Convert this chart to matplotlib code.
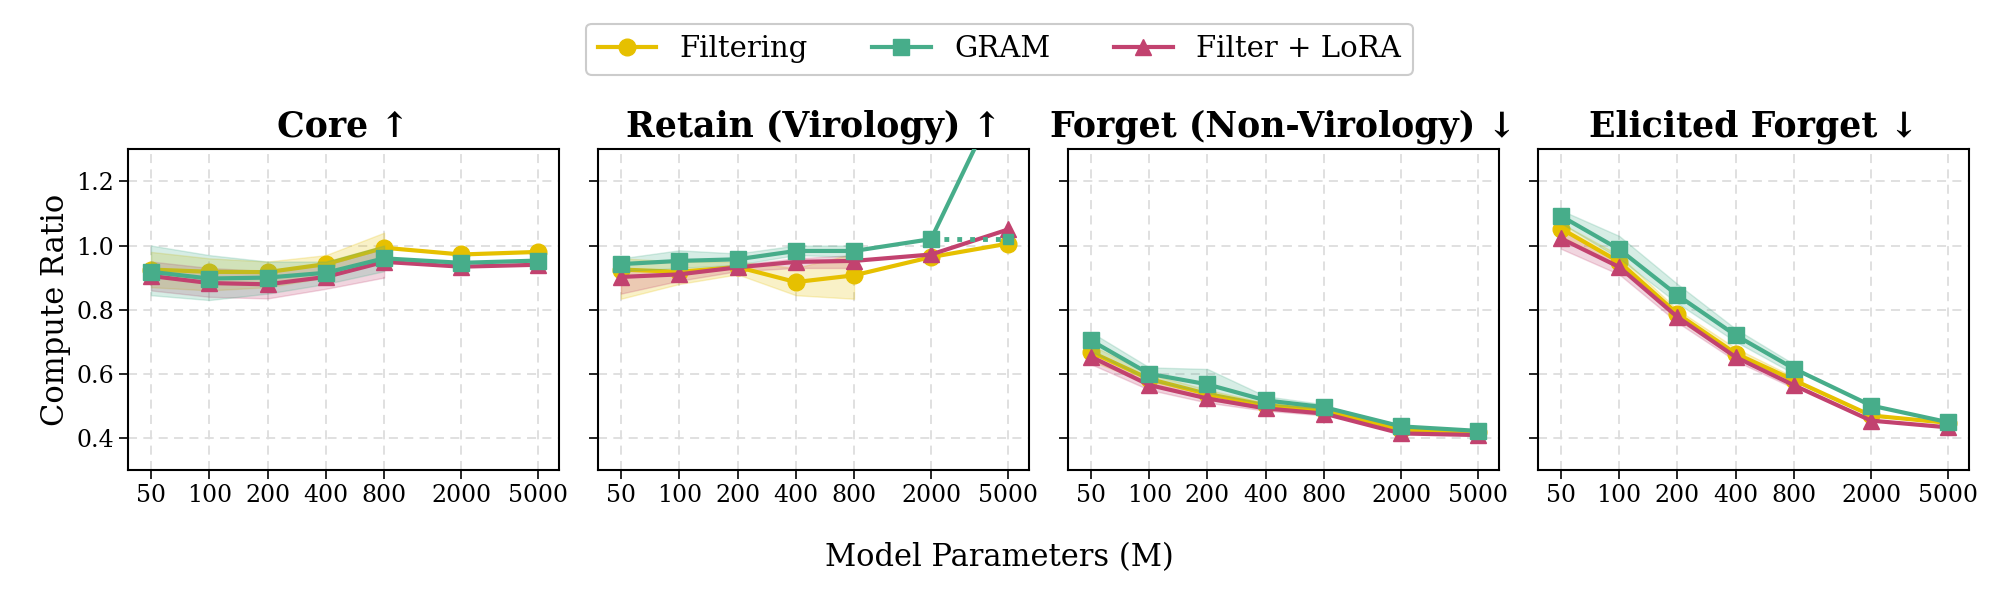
import numpy as np
import matplotlib
matplotlib.use("Agg")
import matplotlib.pyplot as plt
from matplotlib.ticker import NullLocator

# model sizes (M params)
sizes = [50, 100, 200, 400, 800, 2000, 5000]
size_labels = ["50", "100", "200", "400", "800", "2000", "5000"]
n_band = 5  # seeds only available for the first five sizes

panel_titles = ["Core ↑", "Retain (Virology) ↑",
                "Forget (Non-Virology) ↓", "Elicited Forget ↓"]

# mean values per panel
filt_core = [0.925, 0.918, 0.917, 0.942, 0.993, 0.972, 0.980]
gram_core = [0.918, 0.897, 0.900, 0.915, 0.960, 0.946, 0.953]
lora_core = [0.905, 0.883, 0.879, 0.902, 0.949, 0.934, 0.940]

filt_retain = [0.925, 0.918, 0.933, 0.886, 0.907, 0.964, 1.006]
gram_retain = [0.942, 0.952, 0.957, 0.983, 0.983, 1.020, 1.520]
lora_retain = [0.902, 0.910, 0.932, 0.949, 0.952, 0.972, 1.050]
gram_retain_alt = [1.020, 1.020]  # dotted continuation at 2000 -> 5000

filt_forget = [0.668, 0.584, 0.537, 0.502, 0.486, 0.426, 0.419]
gram_forget = [0.704, 0.600, 0.567, 0.517, 0.496, 0.436, 0.422]
lora_forget = [0.653, 0.565, 0.523, 0.492, 0.476, 0.414, 0.409]

filt_elicit = [1.053, 0.949, 0.787, 0.663, 0.580, 0.470, 0.447]
gram_elicit = [1.092, 0.988, 0.845, 0.720, 0.616, 0.501, 0.449]
lora_elicit = [1.022, 0.933, 0.777, 0.652, 0.564, 0.454, 0.433]

# band limits (min / max over seeds) for first five sizes
filt_core_lo = [0.870, 0.860, 0.870, 0.900, 0.950]
filt_core_hi = [0.980, 0.960, 0.950, 0.970, 1.040]
gram_core_lo = [0.845, 0.830, 0.850, 0.880, 0.920]
gram_core_hi = [1.000, 0.970, 0.950, 0.950, 1.000]
lora_core_lo = [0.860, 0.840, 0.835, 0.865, 0.900]
lora_core_hi = [0.950, 0.930, 0.920, 0.940, 0.990]

filt_retain_lo = [0.834, 0.880, 0.910, 0.845, 0.834]
filt_retain_hi = [0.960, 0.950, 0.950, 0.930, 0.975]
gram_retain_lo = [0.920, 0.930, 0.940, 0.970, 0.965]
gram_retain_hi = [0.960, 0.985, 0.975, 1.000, 1.000]
lora_retain_lo = [0.850, 0.890, 0.920, 0.930, 0.930]
lora_retain_hi = [0.930, 0.920, 0.940, 0.960, 0.970]

filt_forget_lo = [0.640, 0.570, 0.520, 0.490, 0.480]
filt_forget_hi = [0.690, 0.600, 0.550, 0.510, 0.495]
gram_forget_lo = [0.670, 0.580, 0.540, 0.505, 0.490]
gram_forget_hi = [0.730, 0.620, 0.615, 0.530, 0.505]
lora_forget_lo = [0.630, 0.550, 0.510, 0.485, 0.470]
lora_forget_hi = [0.670, 0.580, 0.535, 0.500, 0.485]

filt_elicit_lo = [1.030, 0.930, 0.770, 0.650, 0.570]
filt_elicit_hi = [1.070, 0.970, 0.800, 0.680, 0.590]
gram_elicit_lo = [1.070, 0.960, 0.820, 0.700, 0.600]
gram_elicit_hi = [1.110, 1.030, 0.880, 0.740, 0.630]
lora_elicit_lo = [0.990, 0.910, 0.760, 0.640, 0.555]
lora_elicit_hi = [1.050, 0.950, 0.790, 0.660, 0.575]

methods = ["Filtering", "GRAM", "Filter + LoRA"]
colors = {"Filtering": "#E6C000", "GRAM": "#47AD8A", "Filter + LoRA": "#C2426F"}
markers = {"Filtering": "o", "GRAM": "s", "Filter + LoRA": "^"}
zorders = {"Filtering": 3, "GRAM": 5, "Filter + LoRA": 4}

panels = [
    {"Filtering": (filt_core, filt_core_lo, filt_core_hi),
     "GRAM": (gram_core, gram_core_lo, gram_core_hi),
     "Filter + LoRA": (lora_core, lora_core_lo, lora_core_hi)},
    {"Filtering": (filt_retain, filt_retain_lo, filt_retain_hi),
     "GRAM": (gram_retain, gram_retain_lo, gram_retain_hi),
     "Filter + LoRA": (lora_retain, lora_retain_lo, lora_retain_hi)},
    {"Filtering": (filt_forget, filt_forget_lo, filt_forget_hi),
     "GRAM": (gram_forget, gram_forget_lo, gram_forget_hi),
     "Filter + LoRA": (lora_forget, lora_forget_lo, lora_forget_hi)},
    {"Filtering": (filt_elicit, filt_elicit_lo, filt_elicit_hi),
     "GRAM": (gram_elicit, gram_elicit_lo, gram_elicit_hi),
     "Filter + LoRA": (lora_elicit, lora_elicit_lo, lora_elicit_hi)},
]

plt.rcParams["font.family"] = ["DejaVu Serif"]

fig = plt.figure(figsize=(19.99, 5.96), dpi=100)
left0, width, gap = 0.064, 0.2156, 0.0195
bottom, height = 0.2114, 0.5381

axes = []
for i in range(4):
    ax = fig.add_axes([left0 + i * (width + gap), bottom, width, height],
                      sharey=axes[0] if axes else None)
    axes.append(ax)

for i, (ax, data) in enumerate(zip(axes, panels)):
    for m in methods:
        mean, lo, hi = data[m]
        c = colors[m]
        ax.fill_between(sizes[:n_band], lo, hi, color=c, alpha=0.22,
                        linewidth=1.0, zorder=zorders[m] - 2)
        ax.plot(sizes, mean, color=c, marker=markers[m], markersize=12,
                linewidth=3, label=m, zorder=zorders[m])
    if i == 1:
        ax.plot(sizes[-2:], gram_retain_alt, color=colors["GRAM"],
                linestyle=":", linewidth=3.5, marker="s", markersize=7,
                markevery=[1], zorder=4)

    ax.set_xscale("log")
    ax.set_xticks(sizes)
    ax.set_xticklabels(size_labels)
    ax.xaxis.set_minor_locator(NullLocator())
    ax.set_xlim(38, 6400)
    ax.set_ylim(0.3, 1.3)
    ax.set_yticks([0.4, 0.6, 0.8, 1.0, 1.2])
    ax.grid(True, linestyle="--", color="#dddddd", linewidth=1.3,
            dashes=(5, 3.5))
    ax.set_axisbelow(True)
    ax.tick_params(axis="both", labelsize=17, length=6.5, width=1.2,
                   direction="out")
    for sp in ax.spines.values():
        sp.set_linewidth(1.5)
    ax.set_title(panel_titles[i], fontsize=25, fontweight="bold", pad=9)
    if i > 0:
        ax.tick_params(axis="y", labelleft=False)

axes[0].set_ylabel("Compute Ratio", fontsize=22)
fig.text(0.5, 0.065, "Model Parameters (M)", ha="center", va="center",
         fontsize=22)

handles, labels = axes[0].get_legend_handles_labels()
leg = fig.legend(handles, labels, loc="upper center",
                 bbox_to_anchor=(0.5, 0.985), ncol=3, fontsize=21,
                 frameon=True, edgecolor="#cccccc", fancybox=True,
                 framealpha=1.0, handlelength=2.0, columnspacing=2.2,
                 borderpad=0.4)
leg.get_frame().set_linewidth(1.5)

fig.savefig("out.png", dpi=100)
